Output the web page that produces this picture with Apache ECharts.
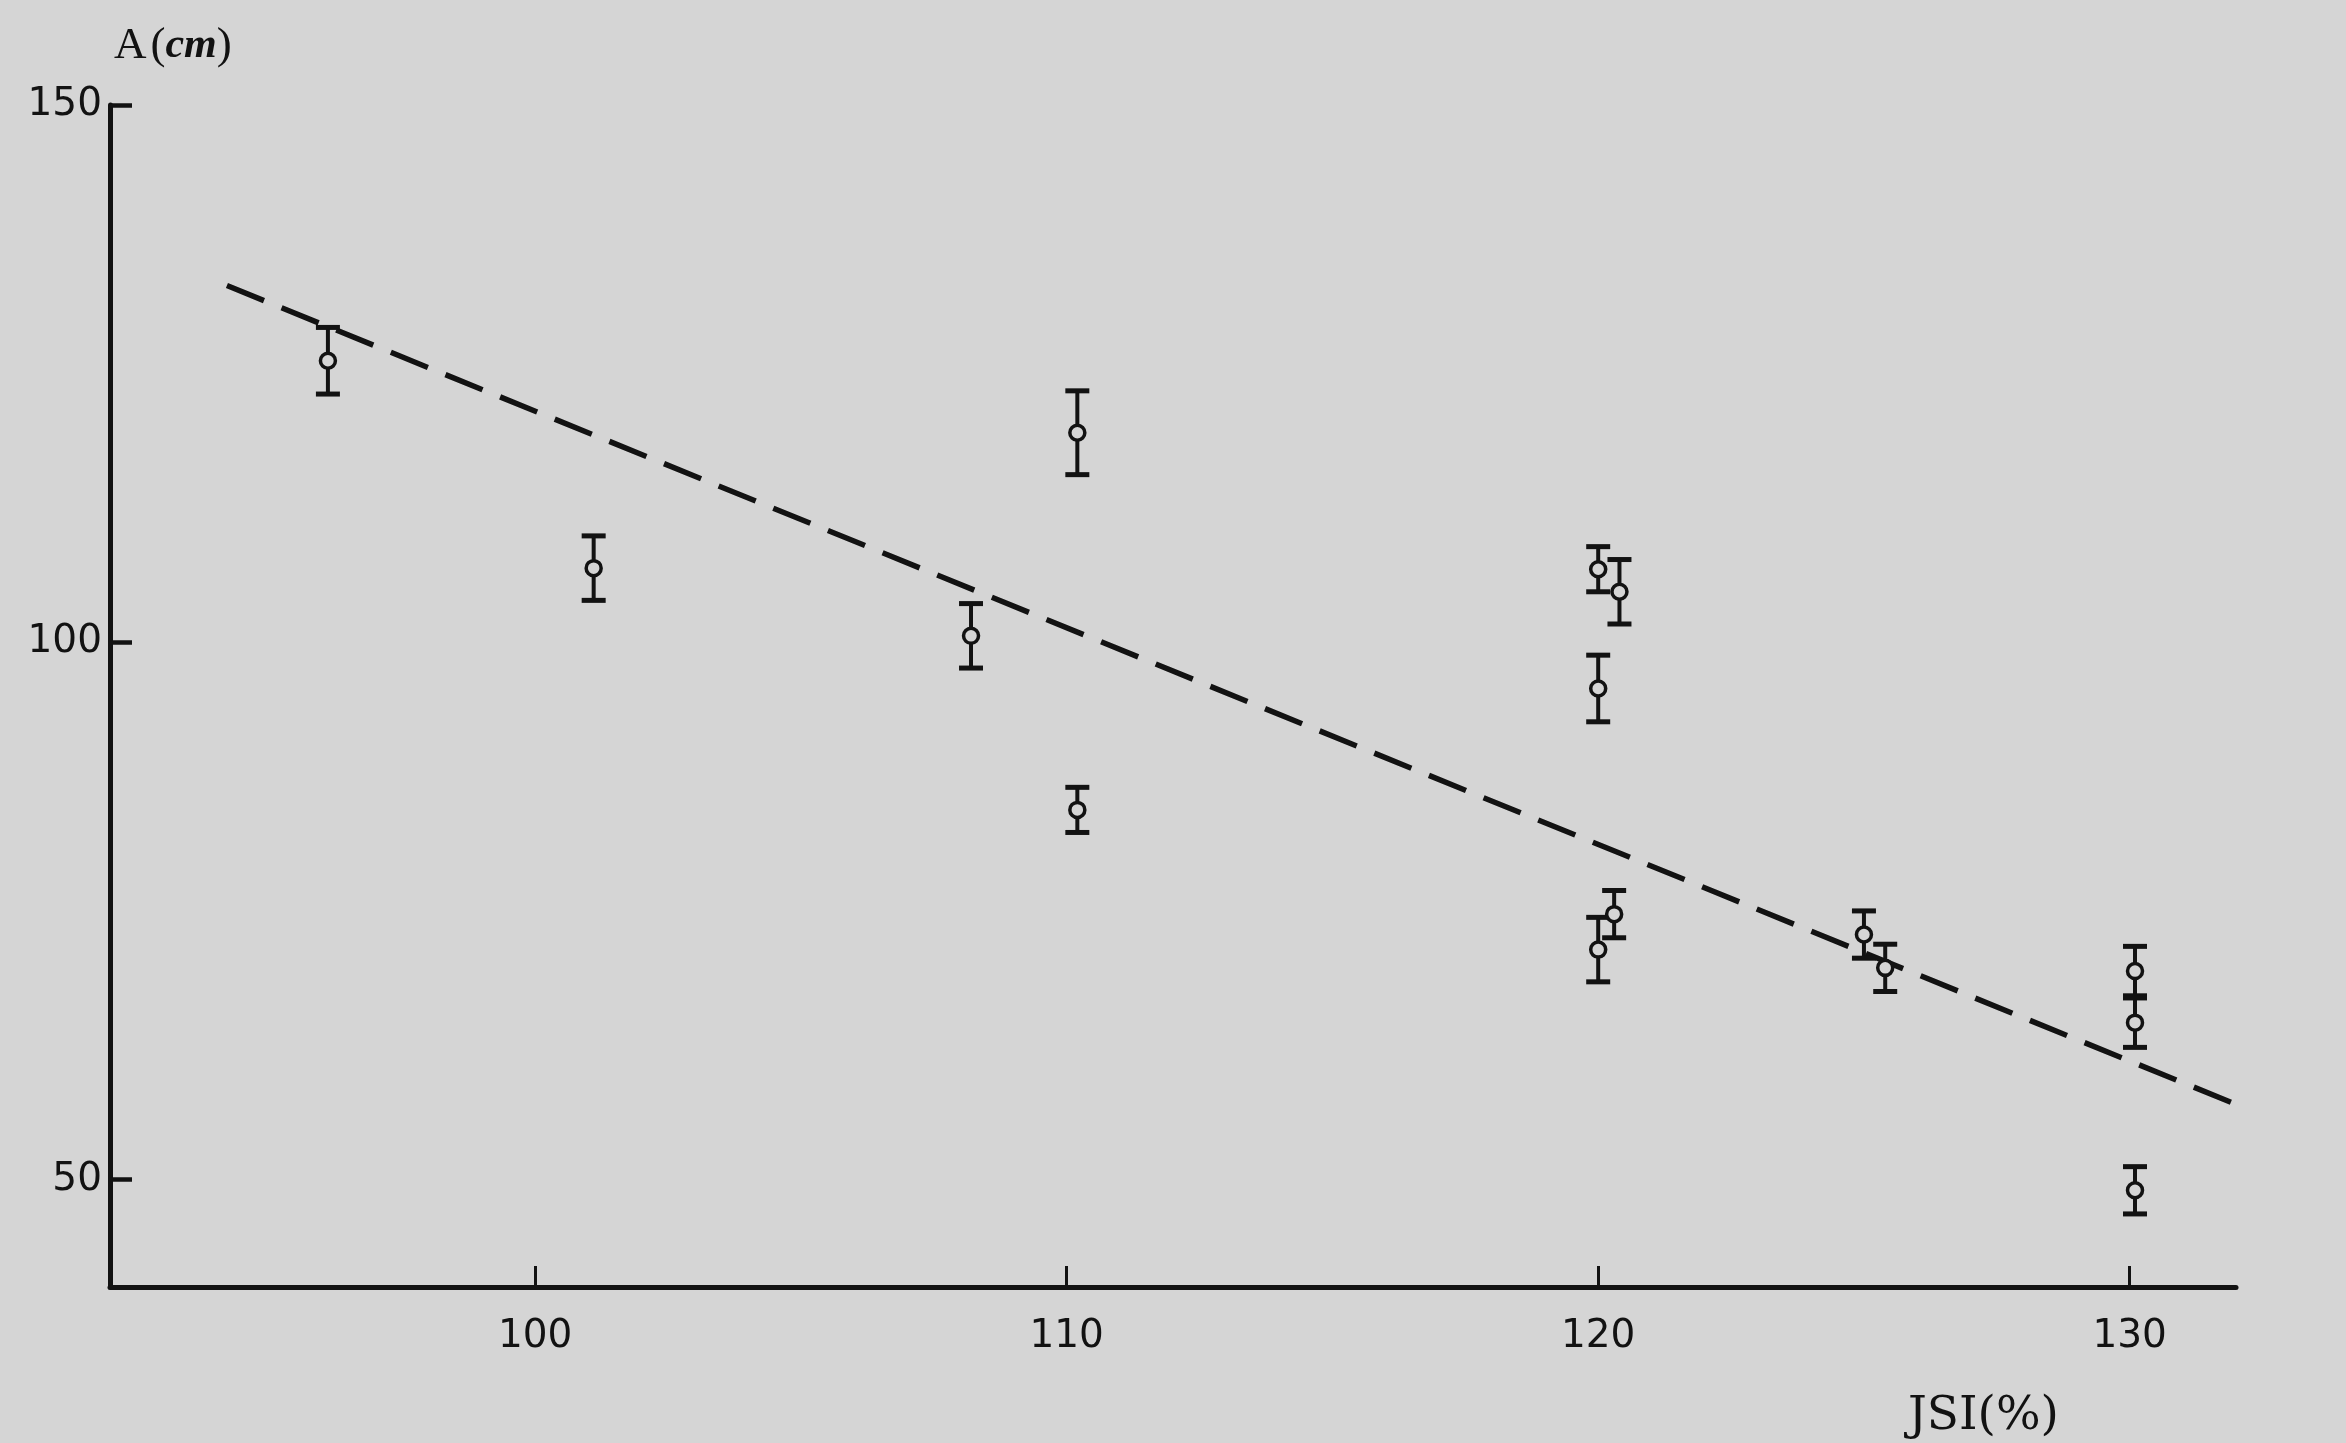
<!DOCTYPE html>
<html>
<head>
<meta charset="utf-8">
<script src="https://cdn.jsdelivr.net/npm/echarts@6/dist/echarts.min.js"></script>
<style>
  html, body { margin: 0; padding: 0; background: #d5d5d5; }
  #chart { width: 2346px; height: 1443px; }
</style>
</head>
<body>
<div id="chart"></div>
<script>
// Data
const jsiValues = [96.1, 101.1, 108.2, 110.2, 110.2, 120.0, 120.4, 120.0, 120.0, 120.3, 125.0, 125.4, 130.1, 130.1, 130.1];
const aMeans    = [126.2, 106.9, 100.6, 119.5, 84.4, 106.8, 104.7, 95.7, 71.4, 74.7, 72.8, 69.7, 69.4, 64.6, 49.0];
const aErrors   = [3.1, 3.0, 3.0, 3.9, 2.1, 2.1, 3.0, 3.1, 3.0, 2.2, 2.2, 2.2, 2.3, 2.3, 2.2];
const trendX    = [94.2, 132.0];
const trendY    = [133.2, 57.0];
const xTickValues = [100, 110, 120, 130];
const yTickValues = [50, 100, 150];

const INK = '#121212';
const BG = '#d5d5d5';

const pointData = jsiValues.map((x, i) => [x, aMeans[i], aErrors[i]]);
const trendData = trendX.map((x, i) => [x, trendY[i]]);

const chart = echarts.init(document.getElementById('chart'));
chart.setOption({
  animation: false,
  backgroundColor: BG,
  grid: { left: 110, right: 110, top: 105, bottom: 156, outerBoundsMode: 'none' },
  xAxis: {
    type: 'value',
    min: 92, max: 132,
    splitLine: { show: false },
    axisLine: { show: true, onZero: false, lineStyle: { color: INK, width: 5 } },
    axisTick: { show: true, inside: true, length: 21, customValues: xTickValues, lineStyle: { color: INK, width: 3 } },
    axisLabel: { show: true, customValues: xTickValues, margin: 30, color: INK, fontFamily: 'DejaVu Sans', fontSize: 39 },
    name: 'JSI(%)',
    nameLocation: 'end',
    nameGap: -328,
    nameTextStyle: { color: INK, fontFamily: 'DejaVu Serif', fontSize: 47, align: 'left', verticalAlign: 'top', padding: [106, 0, 0, 0] }
  },
  yAxis: {
    type: 'value',
    min: 40, max: 150,
    splitLine: { show: false },
    axisLine: { show: true, onZero: false, lineStyle: { color: INK, width: 5 } },
    axisTick: { show: true, inside: true, length: 22, customValues: yTickValues, lineStyle: { color: INK, width: 4.5 } },
    axisLabel: { show: true, customValues: yTickValues, margin: 8, color: INK, fontFamily: 'DejaVu Sans', fontSize: 39 },
    name: '{a|A}{b|(}{c|cm}{b|)}',
    nameLocation: 'end',
    nameGap: 36,
    nameTextStyle: {
      align: 'left',
      padding: [0, 0, 0, 4],
      rich: {
        a: { color: INK, fontFamily: 'Liberation Serif', fontSize: 45, padding: [0, 4, 0, 0] },
        b: { color: INK, fontFamily: 'Liberation Serif', fontSize: 45 },
        c: { color: INK, fontFamily: 'Liberation Serif', fontSize: 42, fontStyle: 'italic', fontWeight: 'bold' }
      }
    }
  },
  series: [
    {
      name: 'trend',
      type: 'line',
      data: trendData,
      showSymbol: false,
      symbol: 'none',
      silent: true,
      z: 2,
      lineStyle: { color: INK, width: 5.5, type: [40, 19] }
    },
    {
      name: 'error',
      type: 'custom',
      data: pointData,
      z: 3,
      renderItem: function (params, api) {
        const x = api.value(0), y = api.value(1), e = api.value(2);
        const top = api.coord([x, y + e]);
        const bot = api.coord([x, y - e]);
        const hw = 12;
        return {
          type: 'group',
          children: [
            { type: 'line', shape: { x1: top[0], y1: top[1], x2: bot[0], y2: bot[1] }, style: { stroke: INK, lineWidth: 4 } },
            { type: 'line', shape: { x1: top[0] - hw, y1: top[1], x2: top[0] + hw, y2: top[1] }, style: { stroke: INK, lineWidth: 5 } },
            { type: 'line', shape: { x1: bot[0] - hw, y1: bot[1], x2: bot[0] + hw, y2: bot[1] }, style: { stroke: INK, lineWidth: 5 } }
          ]
        };
      }
    },
    {
      name: 'points',
      type: 'scatter',
      data: pointData,
      z: 4,
      symbol: 'circle',
      symbolSize: 15,
      itemStyle: { color: BG, borderColor: INK, borderWidth: 3.5, opacity: 1 }
    }
  ]
});
</script>
</body>
</html>
